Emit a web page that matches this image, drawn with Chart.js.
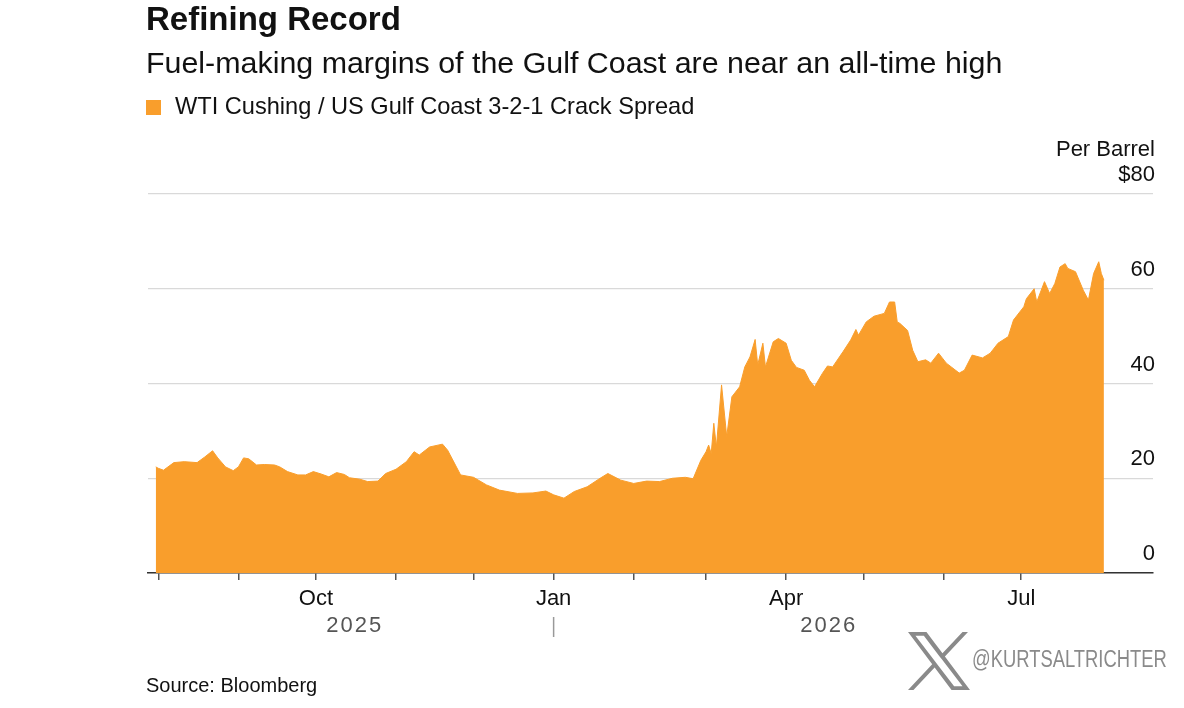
<!DOCTYPE html>
<html>
<head>
<meta charset="utf-8">
<script src="https://cdn.jsdelivr.net/npm/chart.js@4/dist/chart.umd.min.js"></script>
<style>
  body { margin: 0; background: #fff; font-family: "Liberation Sans", Arial, sans-serif; color: #111; }
  #wrap { position: relative; width: 1184px; height: 708px; overflow: hidden; }
  canvas { position: absolute; left: 0; top: 0; }
  .txt { position: absolute; line-height: 1; white-space: nowrap; }
  #title { left: 146px; top: 2px; font-size: 33px; font-weight: bold; }
  #sub { left: 146px; top: 47px; font-size: 30.4px; }
  #legend { left: 146px; top: 95px; font-size: 23.6px; }
  #legend i { display: inline-block; width: 15px; height: 15px; background: #F99E2C; margin-right: 14px; vertical-align: -1px; }
  #unit { right: 29px; top: 138px; font-size: 22px; }
  #source { left: 146px; top: 675px; font-size: 20px; }
  #handle { left: 972px; top: 648px; font-size: 23px; color: #8a8a8a; transform: scaleX(0.8); transform-origin: left top; }
  #xlogo { position: absolute; left: 908px; top: 632px; width: 62px; height: 58px; }
</style>
</head>
<body>
<div id="wrap">
  <canvas id="chart" width="1184" height="708"></canvas>
  <div class="txt" id="title">Refining Record</div>
  <div class="txt" id="sub">Fuel-making margins of the Gulf Coast are near an all-time high</div>
  <div class="txt" id="legend"><i></i>WTI Cushing / US Gulf Coast 3-2-1 Crack Spread</div>
  <div class="txt" id="unit">Per Barrel</div>
  <div class="txt" id="source">Source: Bloomberg</div>
  <svg id="xlogo" viewBox="0 0 1200 1227" preserveAspectRatio="none"><path fill="#8a8a8a" d="M714.163 519.284L1160.89 0H1055.03L667.137 450.887L357.328 0H0L468.492 681.821L0 1226.37H105.866L515.491 750.218L842.672 1226.37H1200L714.163 519.284ZM569.165 687.828L521.697 619.934L144.011 79.6944H306.615L611.412 515.685L658.88 583.579L1055.08 1150.3H892.476L569.165 687.828Z"/></svg>
  <div class="txt" id="handle">@KURTSALTRICHTER</div>
</div>
<script>
// crack spread, $ per barrel
const dates = ['2025-07-31','2025-08-01','2025-08-03','2025-08-07','2025-08-11','2025-08-16','2025-08-19','2025-08-22','2025-08-24','2025-08-27',
  '2025-08-30','2025-09-01','2025-09-03','2025-09-05','2025-09-08','2025-09-11','2025-09-15','2025-09-17','2025-09-20','2025-09-24',
  '2025-09-27','2025-09-30','2025-10-03','2025-10-06','2025-10-09','2025-10-12','2025-10-14','2025-10-18','2025-10-21','2025-10-25',
  '2025-10-28','2025-11-01','2025-11-05','2025-11-08','2025-11-10','2025-11-14','2025-11-19','2025-11-21','2025-11-26','2025-12-01',
  '2025-12-06','2025-12-11','2025-12-18','2025-12-24','2025-12-29','2026-01-01','2026-01-05','2026-01-09','2026-01-14','2026-01-19',
  '2026-01-22','2026-01-27','2026-02-01','2026-02-06','2026-02-11','2026-02-16','2026-02-21','2026-02-24','2026-02-27','2026-03-01',
  '2026-03-02','2026-03-03','2026-03-04','2026-03-05','2026-03-07','2026-03-09','2026-03-11','2026-03-14','2026-03-16','2026-03-18',
  '2026-03-20','2026-03-21','2026-03-23','2026-03-24','2026-03-27','2026-03-29','2026-04-01','2026-04-03','2026-04-05','2026-04-08',
  '2026-04-10','2026-04-12','2026-04-15','2026-04-17','2026-04-19','2026-04-23','2026-04-26','2026-04-28','2026-04-29','2026-05-02',
  '2026-05-05','2026-05-09','2026-05-11','2026-05-13','2026-05-14','2026-05-15','2026-05-18','2026-05-20','2026-05-22','2026-05-25',
  '2026-05-27','2026-05-30','2026-06-02','2026-06-07','2026-06-09','2026-06-12','2026-06-16','2026-06-19','2026-06-22','2026-06-26',
  '2026-06-28','2026-07-02','2026-07-03','2026-07-06','2026-07-07','2026-07-10','2026-07-12','2026-07-14','2026-07-16','2026-07-18',
  '2026-07-19','2026-07-22','2026-07-25','2026-07-27','2026-07-29','2026-07-31','2026-08-01','2026-08-02'];

const spread = [22.4,22.1,21.7,23.3,23.5,23.3,24.5,25.8,24.3,22.4,
  21.6,22.4,24.3,24.1,22.8,22.9,22.8,22.4,21.4,20.7,
  20.7,21.4,20.9,20.3,21.2,20.8,20.1,19.8,19.3,19.4,
  21.0,21.9,23.5,25.6,24.9,26.6,27.2,25.9,20.7,20.2,
  18.6,17.5,16.8,16.9,17.3,16.5,15.8,17.2,18.2,20.0,
  21.0,19.6,18.9,19.4,19.3,20.0,20.2,19.9,23.8,25.6,
  27.0,25.2,31.6,26.6,39.7,28.8,37.2,39.3,43.5,45.6,
  49.3,43.9,48.5,43.5,48.8,49.5,48.5,44.9,43.4,42.8,
  40.7,39.3,42.1,43.7,43.5,46.7,49.2,51.4,50.2,53.0,
  54.2,54.8,57.2,57.2,53.0,52.7,51.2,47.0,44.6,45.0,
  44.3,46.4,44.3,42.2,42.8,46.0,45.4,46.4,48.5,49.9,
  53.4,56.2,57.9,60.0,57.2,61.5,59.0,61.1,64.6,65.3,
  64.3,63.6,59.7,57.6,63.2,65.7,63.2,61.8];

// month ticks on the x axis, only quarters get a label
const tickDates  = ['2025-08-01','2025-09-01','2025-10-01','2025-11-01','2025-12-01','2026-01-01',
                    '2026-02-01','2026-03-01','2026-04-01','2026-05-01','2026-06-01','2026-07-01'];
const tickLabels = ['', '', 'Oct', '', '', 'Jan', '', '', 'Apr', '', '', 'Jul'];
const yearLabels = ['2025', '2026'];
const yearBreak = '2026-01-01';
const axisStart = '2025-07-28';
const axisEnd   = '2026-08-21';

const ORANGE = '#F99E2C';

function toDay(s) {
  const p = s.split('-').map(Number);
  return Date.UTC(p[0], p[1] - 1, p[2]) / 86400000;
}

const points = dates.map((d, i) => ({ x: toDay(d), y: spread[i] }));
const tickValues = tickDates.map(toDay);

// year captions under the month labels, centred on each year's stretch of data
const yearPlugin = {
  id: 'years',
  afterDraw(chart) {
    const xs = chart.scales.x, ctx = chart.ctx;
    const first = xs.getPixelForValue(points[0].x);
    const last = xs.getPixelForValue(points[points.length - 1].x);
    const brk = xs.getPixelForValue(toDay(yearBreak));
    ctx.save();
    ctx.fillStyle = '#555';
    ctx.font = '22px "Liberation Sans", Arial, sans-serif';
    ctx.letterSpacing = '2px';
    ctx.textAlign = 'center';
    ctx.textBaseline = 'middle';
    ctx.fillText(yearLabels[0], (first + brk) / 2, 626);
    ctx.fillText(yearLabels[1], (brk + last) / 2, 626);
    ctx.strokeStyle = '#999';
    ctx.lineWidth = 1.5;
    ctx.beginPath();
    ctx.moveTo(brk, 617);
    ctx.lineTo(brk, 637);
    ctx.stroke();
    ctx.restore();
  }
};

new Chart(document.getElementById('chart'), {
  type: 'line',
  data: {
    datasets: [{
      label: 'WTI Cushing / US Gulf Coast 3-2-1 Crack Spread',
      data: points,
      fill: 'origin',
      backgroundColor: ORANGE,
      borderColor: ORANGE,
      borderWidth: 1,
      pointRadius: 0,
      tension: 0
    }]
  },
  options: {
    responsive: false,
    animation: false,
    layout: { padding: { left: 148, right: 31, top: 194, bottom: 95 } },
    plugins: { legend: { display: false }, tooltip: { enabled: false } },
    scales: {
      x: {
        type: 'linear',
        min: toDay(axisStart),
        max: toDay(axisEnd),
        z: 1,
        afterBuildTicks: (scale) => { scale.ticks = tickValues.map(v => ({ value: v })); },
        afterFit: (scale) => { scale.height = 40; },
        ticks: {
          autoSkip: false,
          maxRotation: 0,
          padding: 6,
          color: '#111',
          font: { family: '"Liberation Sans", Arial, sans-serif', size: 22 },
          callback: (v, i) => tickLabels[i]
        },
        grid: { drawOnChartArea: false, drawTicks: true, tickLength: 7, color: '#555', lineWidth: 1.5 },
        border: { display: true, color: '#333', width: 1.5 }
      },
      y: {
        position: 'right',
        min: 0,
        max: 80,
        afterFit: (scale) => { scale.width = 0; },
        ticks: {
          stepSize: 20,
          mirror: true,
          padding: 2,
          labelOffset: -19,
          color: '#111',
          font: { family: '"Liberation Sans", Arial, sans-serif', size: 22 },
          callback: (v) => v === 80 ? '$80' : v
        },
        grid: { color: '#d9d9d9', lineWidth: 1.2, drawTicks: false },
        border: { display: false }
      }
    }
  },
  plugins: [yearPlugin]
});
</script>
</body>
</html>
